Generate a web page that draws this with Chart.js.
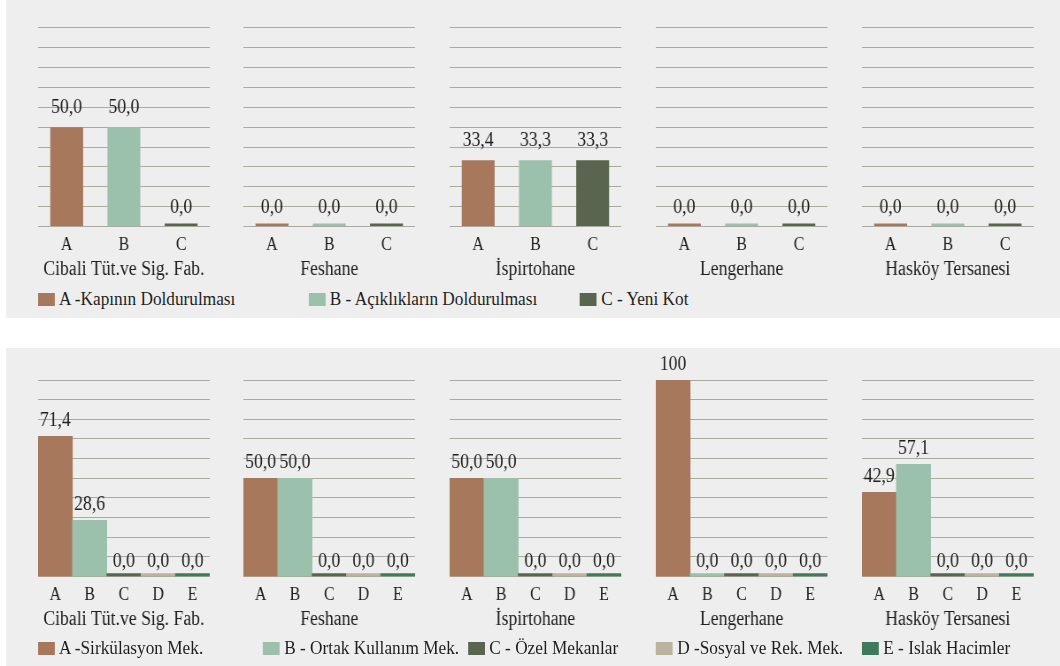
<!DOCTYPE html>
<html lang="tr">
<head>
<meta charset="UTF-8">
<title>Müdahale oranları</title>
<script src="https://cdn.jsdelivr.net/npm/chart.js"></script>
<style>
  html, body { margin: 0; padding: 0; background: #fff; }
  body { width: 1060px; height: 666px; overflow: hidden; position: relative;
         font-family: "Liberation Serif", "DejaVu Serif", serif; color: #1e1e1e; }
  /* sahne geniş kuruluyor, sonra yatayda biraz daraltılıyor (dar serif yazı görünümü) */
  #stage { position: absolute; left: 0; top: 0; width: 1198px; height: 666px;
           transform: scaleX(0.885); transform-origin: 0 0; }
  .panel { position: absolute; left: 7px; right: 0; background: #eeeeee; }
  #stage canvas { position: absolute; }
  .legend-item { position: absolute; font-size: 19.5px; line-height: 20px; height: 20px;
                 white-space: nowrap; display: flex; align-items: center; }
  .legend-item i { display: inline-block; width: 19px; height: 13px; margin-right: 5px; }
</style>
</head>
<body>
<div id="stage">
  <div class="panel" style="top:0; height:317.5px"></div>
  <div class="panel" style="top:348.3px; height:318px"></div>
</div>

<script>
  const SQUEEZE = 0.885;

  // yapılar
  const sites = ['Cibali Tüt.ve Sig. Fab.', 'Feshane', 'İspirtohane', 'Lengerhane', 'Hasköy Tersanesi'];

  // üst grafik: kot müdahaleleri (%)
  const topCats = ['A', 'B', 'C'];
  const topLegend = ['A -Kapının Doldurulması', 'B - Açıklıkların Doldurulması', 'C - Yeni Kot'];
  const topColors = ['#a8785c', '#9bc1ad', '#5a654f'];
  const kapiDoldurma = [50.0, 0.0, 33.4, 0.0, 0.0];
  const aciklikDoldurma = [50.0, 0.0, 33.3, 0.0, 0.0];
  const yeniKot = [0.0, 0.0, 33.3, 0.0, 0.0];

  // alt grafik: mekan türleri (%)
  const botCats = ['A', 'B', 'C', 'D', 'E'];
  const botLegend = ['A -Sirkülasyon Mek.', 'B - Ortak Kullanım Mek.', 'C - Özel Mekanlar',
                     'D -Sosyal ve Rek. Mek.', 'E - Islak Hacimler'];
  const botColors = ['#a8785c', '#9bc1ad', '#5a654f', '#bab49c', '#3f7a5f'];
  const sirkulasyon = [71.4, 50.0, 50.0, 100, 42.9];
  const ortakKullanim = [28.6, 50.0, 50.0, 0.0, 57.1];
  const ozelMekan = [0.0, 0.0, 0.0, 0.0, 0.0];
  const sosyalRek = [0.0, 0.0, 0.0, 0.0, 0.0];
  const islakHacim = [0.0, 0.0, 0.0, 0.0, 0.0];

  const FONT = '"Liberation Serif", "DejaVu Serif", serif';
  const INK = '#1e1e1e';
  const stage = document.getElementById('stage');

  const fmt = v => v === 100 ? '100' : v.toFixed(1).replace('.', ',');

  // çubuk üstü değer etiketleri
  const valueLabels = {
    id: 'valueLabels',
    afterDatasetsDraw(chart, args, opts) {
      const ctx = chart.ctx;
      const y = chart.scales.y;
      const ds = chart.data.datasets[0];
      ctx.save();
      ctx.font = '20px ' + FONT;
      ctx.fillStyle = INK;
      ctx.textAlign = 'center';
      ctx.textBaseline = 'alphabetic';
      chart.getDatasetMeta(0).data.forEach((bar, k) => {
        const v = ds.data[k];
        ctx.fillText(fmt(v), bar.x, y.getPixelForValue(v) - opts.offset);
      });
      ctx.restore();
    }
  };

  function addChart(i, top, height, padTop, cats, values, colors, barPct, labelOffset) {
    const pad = 20;
    const left = Math.round((37.7 + 206.1 * i) / SQUEEZE) - pad;
    const canvas = document.createElement('canvas');
    canvas.width = Math.round(172 / SQUEEZE) + 2 * pad;
    canvas.height = height;
    canvas.style.left = left + 'px';
    canvas.style.top = top + 'px';
    stage.appendChild(canvas);

    new Chart(canvas, {
      type: 'bar',
      data: {
        labels: cats,
        datasets: [{
          data: values,
          backgroundColor: colors,
          barPercentage: barPct,
          categoryPercentage: 1,
          minBarLength: 3,
          borderWidth: 0
        }]
      },
      options: {
        responsive: false,
        animation: false,
        events: [],
        layout: { padding: { top: padTop, left: pad, right: pad, bottom: 0 } },
        plugins: {
          legend: { display: false },
          tooltip: { enabled: false },
          valueLabels: { offset: labelOffset }
        },
        scales: {
          x: {
            grid: { display: false, drawTicks: false },
            border: { display: false },
            ticks: { color: INK, font: { family: FONT, size: 18 }, padding: 8 },
            title: { display: true, text: sites[i], color: INK,
                     font: { family: FONT, size: 20 }, padding: { top: -6.2, bottom: 0 } }
          },
          y: {
            min: 0, max: 100, z: 1,
            ticks: { display: false, stepSize: 10 },
            border: { display: false },
            grid: { color: 'rgba(115,115,95,0.55)', drawTicks: false, lineWidth: 1 }
          }
        }
      },
      plugins: [valueLabels]
    });
  }

  function addLegend(labels, colors, lefts, centerY) {
    labels.forEach((txt, k) => {
      const item = document.createElement('div');
      item.className = 'legend-item';
      item.style.left = (lefts[k] / SQUEEZE) + 'px';
      item.style.top = (centerY - 10) + 'px';
      const sw = document.createElement('i');
      sw.style.background = colors[k];
      item.appendChild(sw);
      item.appendChild(document.createTextNode(txt));
      stage.appendChild(item);
    });
  }

  sites.forEach((s, i) => {
    addChart(i, 0, 282, 27.7, topCats,
             [kapiDoldurma[i], aciklikDoldurma[i], yeniKot[i]], topColors, 0.575, 14);
    addChart(i, 348, 284, 32, botCats,
             [sirkulasyon[i], ortakKullanim[i], ozelMekan[i], sosyalRek[i], islakHacim[i]],
             botColors, 1, 10);
  });

  addLegend(topLegend, topColors, [37.7, 308.5, 580], 299);
  addLegend(botLegend, botColors, [37.7, 263, 468, 656, 862], 648);
</script>
</body>
</html>
